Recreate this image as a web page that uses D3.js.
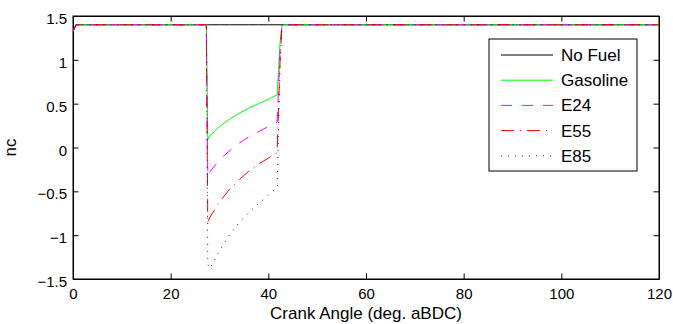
<!DOCTYPE html>
<html>
<head>
<meta charset="utf-8">
<script src="https://cdn.jsdelivr.net/npm/d3@7"></script>
<style>
  body { margin: 0; background: #fff; }
  svg { display: block; font-family: "Liberation Sans", Arial, sans-serif; }
</style>
</head>
<body>
<div class="container"></div>
<script>
var WIDTH = 673;
var HEIGHT = 324;

// crank angle samples (deg. aBDC)
var crankAngle = [0, 0.6, 27.3, 27.6, 28, 30, 32, 34, 36, 38, 40, 41.8, 42.4, 42.8, 120];

var noFuel   = [1.33, 1.4, 1.4, 1.4, 1.4, 1.4, 1.4, 1.4, 1.4, 1.4, 1.4, 1.4, 1.4, 1.4, 1.4];
var gasoline = [1.32, 1.4, 1.4, 0.09, 0.13, 0.24, 0.32, 0.39, 0.45, 0.5, 0.55, 0.6, 1.2, 1.4, 1.4];
var e24      = [1.32, 1.4, 1.4, -0.33, -0.28, -0.14, -0.04, 0.05, 0.12, 0.18, 0.24, 0.29, 1.1, 1.4, 1.4];
var e55      = [1.32, 1.4, 1.4, -0.86, -0.8, -0.62, -0.48, -0.37, -0.27, -0.19, -0.12, -0.06, 1.0, 1.4, 1.4];
var e85      = [1.32, 1.4, 1.4, -1.33, -1.38, -1.18, -1.0, -0.86, -0.74, -0.64, -0.54, -0.46, 0.9, 1.4, 1.4];

var seriesNames = ['No Fuel', 'Gasoline', 'E24', 'E55', 'E85'];
var seriesValues = [noFuel, gasoline, e24, e55, e85];
var seriesColors = ['#000000', '#00ff00', '#ff00ff', '#ff0000', '#0000ff'];
var seriesDash = [null, null, '11,10', '13,6,1,6', '1,6'];

var xTicks = [0, 20, 40, 60, 80, 100, 120];
var yTicks = [-1.5, -1, -0.5, 0, 0.5, 1, 1.5];

var translate = function (x, y) {
  return 'translate(' + x + ',' + y + ')';
};

var fmt = function (v) {
  return String(v).replace('-', '\u2212');
};

var loadChart = function () {
  var left = 73, right = 659, top = 16, bottom = 279;

  var xScale = d3.scaleLinear().domain([0, 120]).range([left, right]);
  var yScale = d3.scaleLinear().domain([-1.5, 1.5]).range([bottom, top]);

  var svg = d3.select('.container').append('svg')
    .attr('width', WIDTH)
    .attr('height', HEIGHT);

  svg.append('defs').append('clipPath').attr('id', 'clip')
    .append('rect')
    .attr('x', left).attr('y', top)
    .attr('width', right - left).attr('height', bottom - top);

  // axes with inward ticks, mirrored on top/right
  var xAxis = d3.axisBottom(xScale).tickValues(xTicks).tickSizeInner(-5.5).tickSizeOuter(0).tickFormat(fmt);
  var yAxis = d3.axisLeft(yScale).tickValues(yTicks).tickSizeInner(-5.5).tickSizeOuter(0).tickFormat(fmt);
  var xTop = d3.axisTop(xScale).tickValues(xTicks).tickSizeInner(-5.5).tickSizeOuter(0).tickFormat('');
  var yRight = d3.axisRight(yScale).tickValues(yTicks).tickSizeInner(-5.5).tickSizeOuter(0).tickFormat('');

  var gx = svg.append('g').attr('transform', translate(0, bottom)).call(xAxis);
  var gy = svg.append('g').attr('transform', translate(left, 0)).call(yAxis);
  svg.append('g').attr('transform', translate(0, top)).call(xTop);
  svg.append('g').attr('transform', translate(right, 0)).call(yRight);

  svg.selectAll('.domain').attr('stroke', '#000');
  svg.selectAll('.tick line').attr('stroke', '#000');

  gx.selectAll('.tick text')
    .attr('font-size', 15)
    .attr('font-family', '"Liberation Sans", Arial, sans-serif')
    .attr('fill', '#000')
    .attr('dy', null)
    .attr('y', 20);
  gy.selectAll('.tick text')
    .attr('font-size', 15)
    .attr('font-family', '"Liberation Sans", Arial, sans-serif')
    .attr('fill', '#000')
    .attr('dy', '0.5em')
    .attr('x', -6);

  svg.append('rect')
    .attr('x', left).attr('y', top)
    .attr('width', right - left).attr('height', bottom - top)
    .attr('fill', 'none').attr('stroke', '#000');

  var line = d3.line()
    .x(function (d, i) { return xScale(crankAngle[i]); })
    .y(function (d) { return yScale(d); });

  var chartGroup = svg.append('g').attr('clip-path', 'url(#clip)');

  seriesValues.forEach(function (vals, k) {
    chartGroup.append('path')
      .datum(vals)
      .attr('d', line)
      .attr('fill', 'none')
      .attr('stroke', seriesColors[k])
      .attr('stroke-width', 1)
      .attr('stroke-dasharray', seriesDash[k]);
  });

  // axis labels
  svg.append('text')
    .attr('x', (left + right) / 2)
    .attr('y', 319)
    .attr('text-anchor', 'middle')
    .attr('font-size', 17)
    .text('Crank Angle (deg. aBDC)');

  svg.append('text')
    .attr('transform', translate(16, (top + bottom) / 2) + ' rotate(-90)')
    .attr('text-anchor', 'middle')
    .attr('font-size', 17)
    .text('nc');

  // legend
  var legend = svg.append('g');
  legend.append('rect')
    .attr('x', 489).attr('y', 39)
    .attr('width', 148).attr('height', 132)
    .attr('fill', '#fff').attr('stroke', '#000');

  var rows = legend.selectAll('g.row').data(seriesNames).enter()
    .append('g')
    .attr('class', 'row')
    .attr('transform', function (d, i) { return translate(0, 55 + i * 25.2); });

  rows.append('line')
    .attr('x1', 501).attr('x2', 553)
    .attr('y1', 0).attr('y2', 0)
    .attr('stroke', function (d, i) { return seriesColors[i]; })
    .attr('stroke-dasharray', function (d, i) { return seriesDash[i]; });

  rows.append('text')
    .attr('x', 561)
    .attr('y', 6)
    .attr('font-size', 17)
    .text(function (d) { return d; });
};

window.onload = loadChart;
</script>
</body>
</html>
